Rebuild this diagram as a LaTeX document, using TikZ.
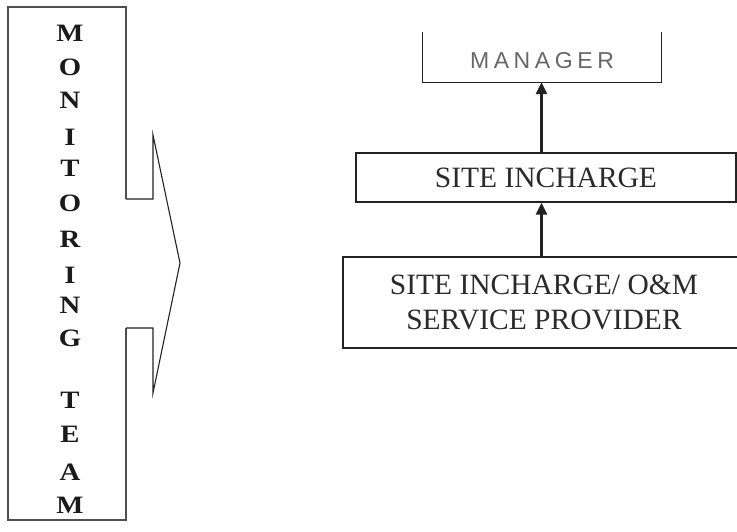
\documentclass[tikz,border=0pt]{standalone}
\usepackage{fontspec}
\setmainfont{Liberation Serif}
\newfontfamily\mgrfont[LetterSpace=20]{Liberation Sans}
\usetikzlibrary{arrows.meta}
\definecolor{boxline}{HTML}{222222}
\definecolor{txtdark}{HTML}{1A1A1A}
\definecolor{txtgray}{HTML}{2A2A2A}
\definecolor{txtlight}{HTML}{666666}
\tikzset{
  letter/.style={font=\fontsize{25}{25}\selectfont\bfseries, text=txtdark, inner sep=0pt, xscale=1.15},
  orgbox/.style={draw=boxline, line width=1.3pt, inner sep=0pt, align=center, text=txtgray,
                 font=\fontsize{29.5}{35}\selectfont},
  uparrow/.style={-{Triangle[length=12pt,width=11pt]}, line width=2.6pt, draw=boxline}
}
\begin{document}
\begin{tikzpicture}[x=1pt,y=-1pt]
\clip (0,0) rectangle (737,531);
\useasboundingbox (0,0) rectangle (737,531);
% monitoring rectangle merged with the block arrow
\draw[draw=boxline!80, line width=1.4pt, line join=miter]
  (126,199) -- (126,7) -- (8,7) -- (8,520) -- (126,520) -- (126,328);
\draw[draw=boxline, line width=1.1pt, line join=miter]
  (126,199) -- (153,199) -- (153,135) -- (180,263) -- (153,393) -- (153,328) -- (126,328);
% vertical letters
\foreach \ch/\yy [count=\i] in {M/33,O/67,N/100,I/137,T/168,O/203,R/239,I/275,N/305,G/338,T/400,E/434,A/472,M/505}
  \node[letter] (L\i) at (70,\yy) {\ch};
% org chart
\node[minimum width=238pt, minimum height=50pt, inner sep=0pt, text=txtlight,
      text height=23pt, text depth=0pt,
      font=\fontsize{23}{23}\selectfont\mgrfont] (mgr) at (542,57) {MANAGER};
\draw[draw=boxline, line width=1.3pt] (mgr.north west) |- (mgr.south east) -- (mgr.north east);
\node[orgbox, minimum width=380pt, minimum height=49pt] (site) at (546,177.5) {SITE INCHARGE};
\node[orgbox, minimum width=402pt, minimum height=91pt] (prov) at (544,302.5)
  {SITE INCHARGE/ O\&M\\SERVICE PROVIDER};
\coordinate (ax) at (541.5,0);
\draw[uparrow] (site.north -| ax) -- (mgr.south -| ax);
\draw[uparrow] (prov.north -| ax) -- (site.south -| ax);
\end{tikzpicture}
\end{document}
